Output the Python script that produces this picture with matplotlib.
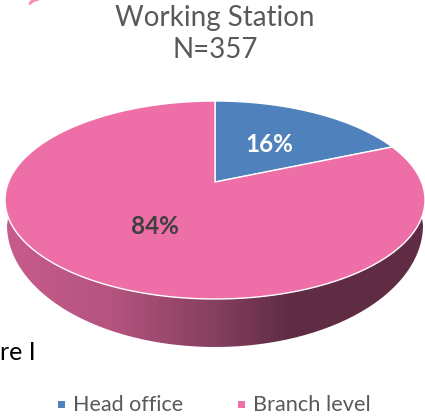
import numpy as np
import matplotlib
matplotlib.use("Agg")
import matplotlib.pyplot as plt
from matplotlib.patches import Polygon, Rectangle, PathPatch
from matplotlib.path import Path
from matplotlib.colors import LinearSegmentedColormap

labels=["Head office","Branch level"]
shares=[16,84]
colors=["#4f81bd","#ee6fa7"]
title="Working Station\nN=357"

plt.rcParams['font.family']=['Lato','DejaVu Sans']

W,H=425,418
fig=plt.figure(figsize=(W/100,H/100),dpi=100)
ax=fig.add_axes([0,0,1,1])
ax.set_xlim(0,W)
ax.set_ylim(H,0)
ax.axis("off")

# ellipse of the top face, apex sits above the centre (perspective)
cx,cy,a,b=215,200,210,99
ax_x,ax_y=215,182
# lower rim of the wall is a bigger, lower ellipse
cy2,a2,b2=225,208,122

def rim(t,cy=cy,a=a,b=b):
    return cx+a*np.cos(np.radians(t)),cy-b*np.sin(np.radians(t))

# side wall with gradient
x,y=rim(np.linspace(190,350,200))
x2,y2=rim(np.linspace(180,360,200),cy2,a2,b2)
side=np.vstack([np.column_stack([x,y]),np.column_stack([x2[::-1],y2[::-1]])])
clip=PathPatch(Path(np.vstack([side,side[0]])),fc="none",ec="none")
ax.add_patch(clip)
cmap=LinearSegmentedColormap.from_list("side",[(0,"#c85b8d"),(0.25,"#b4547f"),(0.5,"#863f5f"),(0.68,"#5f2c44"),(1,"#5f2c44")])
im=ax.imshow(np.linspace(0,1,256).reshape(1,-1),extent=[cx-a,cx+a,H,0],cmap=cmap,aspect="auto",zorder=1)
im.set_clip_path(clip)
ax.set_xlim(0,W)
ax.set_ylim(H,0)

# top face, slices clockwise from 12 o'clock
start=90.0
for share,col in zip(shares,colors):
    sweep=360.0*share/sum(shares)
    tt=np.linspace(start,start-sweep,200)
    px,py=rim(tt)
    pts=np.vstack([[ax_x,ax_y],np.column_stack([px,py])])
    ax.add_patch(Polygon(pts,closed=True,fc=col,ec="white",lw=1.0,zorder=2,joinstyle="round"))
    start-=sweep

ax.text(269,145,"%d%%"%shares[0],color="white",fontsize=17.5,fontweight="bold",ha="center",va="center",zorder=3)
ax.text(155,227,"%d%%"%shares[1],color="#404040",fontsize=17.5,fontweight="bold",ha="center",va="center",zorder=3)

ax.text(215,34,title,color="#595959",fontsize=20,ha="center",va="center",linespacing=1.3)
ax.text(0,352,"re I",color="black",fontsize=18,ha="left",va="center")

# pink scrap at the top edge
ax.add_patch(Polygon([[28,4],[31,0],[40,0],[34,2],[30,5]],closed=True,fc="#f48cbc",ec="none"))

# legend
ax.add_patch(Rectangle((58,401),7,7,fc=colors[0],ec="none"))
ax.text(73,405,labels[0],color="#595959",fontsize=15.5,ha="left",va="center")
ax.add_patch(Rectangle((238,401),7,7,fc=colors[1],ec="none"))
ax.text(253,405,labels[1],color="#595959",fontsize=15.7,ha="left",va="center")

fig.savefig("out.png",dpi=100)
